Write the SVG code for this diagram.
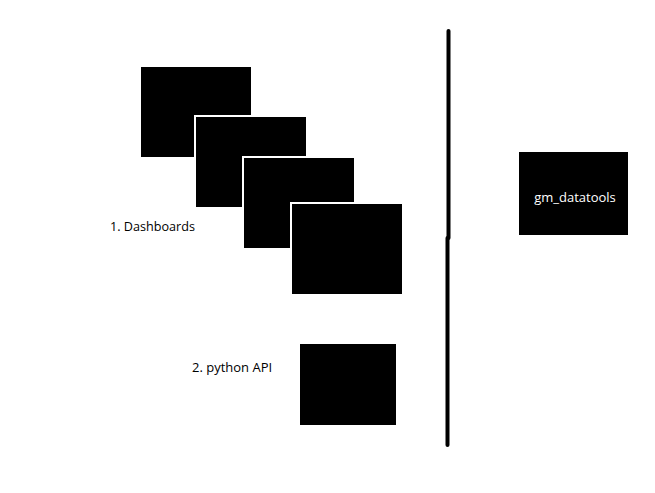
<svg xmlns="http://www.w3.org/2000/svg" width="655" height="493" viewBox="0 0 655 493">
<style>
.box{fill:#000}
.stack{fill:#000;stroke:#fff;stroke-width:2}
.lbl{font-family:"Open Sans","Liberation Sans",sans-serif;font-size:13px;fill:#000}
.inner{font-family:"Open Sans","Liberation Sans",sans-serif;font-size:13px;fill:#fff;text-anchor:middle}
.sep{stroke:#000;stroke-width:4;stroke-linecap:round;fill:none}
</style>
<rect width="655" height="493" fill="#fff"/>
<g id="dashboard-label"><text class="lbl" x="110" y="231" textLength="85" lengthAdjust="spacingAndGlyphs">1. Dashboards</text></g>
<g id="dashboard-1"><rect class="box" x="141" y="67" width="110" height="90"/></g>
<g id="dashboard-2"><rect class="stack" x="195" y="116" width="112" height="92"/></g>
<g id="dashboard-3"><rect class="stack" x="243" y="157" width="112" height="92"/></g>
<g id="dashboard-4"><rect class="stack" x="291" y="203" width="112" height="92"/></g>
<g id="python-api-label"><text class="lbl" x="192" y="372">2. python API</text></g>
<g id="python-api"><rect class="box" x="300" y="344" width="96" height="81"/></g>
<g id="gm_datatools"><rect class="box" x="519" y="152" width="109" height="83"/><text class="inner" x="575" y="202">gm_datatools</text></g>
<g id="connectors">
<line class="sep" x1="448.5" y1="31" x2="448.5" y2="238"/>
<line class="sep" x1="447.5" y1="238" x2="447.5" y2="445"/>
</g>
</svg>
